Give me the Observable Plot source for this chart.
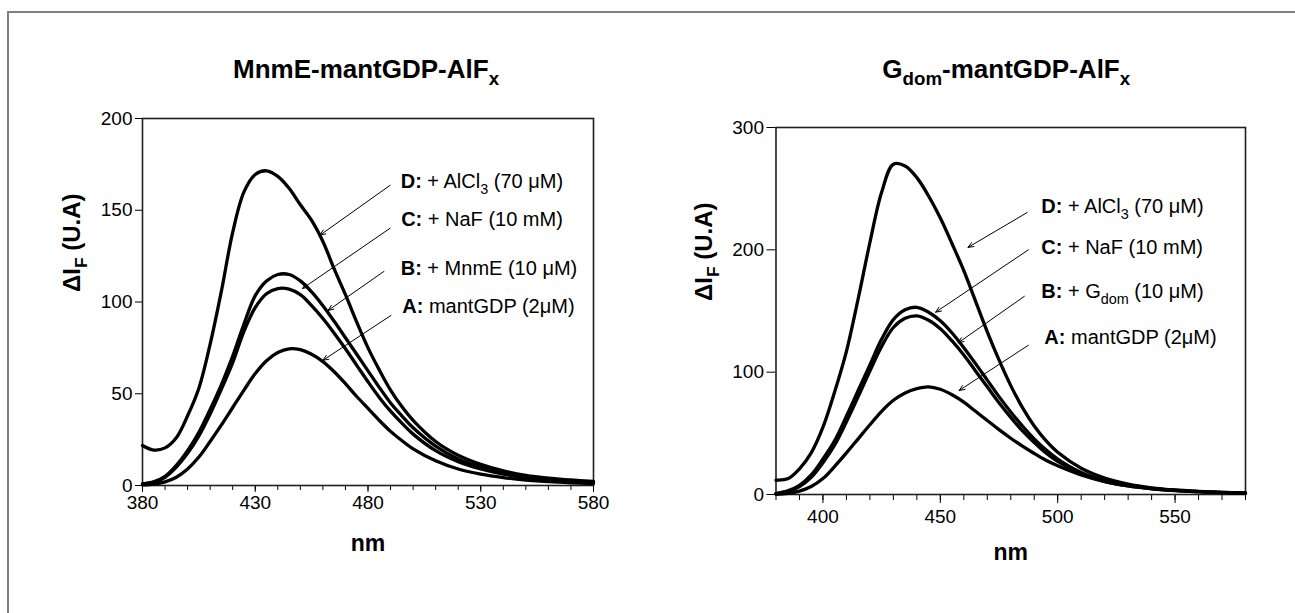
<!DOCTYPE html>
<html><head><meta charset="utf-8">
<script src="https://cdn.jsdelivr.net/npm/d3@7"></script>
<script src="https://cdn.jsdelivr.net/npm/@observablehq/plot@0.6"></script>
<style>
html,body{margin:0;padding:0;background:#fff;}
#wrap{position:relative;width:1295px;height:613px;overflow:hidden;background:#fff;font-family:"Liberation Sans",Arial,Helvetica,sans-serif;}
#border{position:absolute;left:7px;top:11px;width:1400px;height:700px;border-left:2px solid #808080;border-top:2px solid #808080;}
.panel{position:absolute;top:0;}
#wrap svg g[aria-label$="tick label"]{font-size:19px;}
</style></head><body>
<div id="wrap"><div id="border"></div><div id="left" class="panel" style="left:0px"></div><div id="right" class="panel" style="left:650px"></div></div>
<script>
// wavelengths (nm)
const wavelengths = [380,385,390,395,400,405,410,415,420,425,430,435,440,445,450,455,460,465,470,475,480,485,490,495,500,510,520,530,540,550,560,570,580];

// Left panel: MnmE-mantGDP-AlFx
const mnmeA = [0.3,0.8,2,4.5,9,15.5,24,33,42.5,52,61,68,72.5,74.5,74,71.5,67.5,62,55.5,48.5,42,35.5,29.5,24.5,20,13.5,9,6.2,4.3,3,2.1,1.5,1.1];
const mnmeB = [0.8,1.8,4.5,10,17.5,27,39,52.5,67,84,97,104.5,107.3,107,104,98,91,83,74.5,65.5,56.5,48,40.5,34,28,19,13,9,6.2,4.3,3,2.1,1.5];
const mnmeC = [0.9,2,5,11,19,29,41.5,55,70.5,88,103.5,111.5,115,115,111.5,105.5,98,89.5,80.5,71.5,62.5,53.5,45,38,31.5,21.5,14.5,10,7,4.8,3.3,2.3,1.6];
const mnmeD = [21.8,19.3,20.5,26,38,53,77,106,138,160,169.5,171.5,168.5,162,153,144.5,133,118,104,89,75,63,52,43,35.5,24,16.5,11.5,8,5.5,4,3,2.2];

// Right panel: Gdom-mantGDP-AlFx
const gdomA = [0.2,1,2.8,6.5,13,23,34,45.5,57,68,77,83,86.5,88,86,81.5,75.5,68,60.5,53,46,39.5,33.5,28,23.5,16,10.5,7,4.8,3.3,2.3,1.6,1.1];
const gdomB = [0.7,2.5,6.5,14,26,40.5,59.5,80,101,121,136.5,144,146,142.5,135.5,125.5,114,101,88,75,63,52,42.5,34,27,17,10.8,7,4.7,3.2,2.3,1.6,1.1];
const gdomC = [0.8,3,7.5,16,29,44,64,85,106,127,143,151,153,149,142,132,120,107,93.5,80,67.5,56,45.5,36.5,29,18,11.5,7.5,5,3.4,2.4,1.7,1.2];
const gdomD = [11.8,12.8,21,34,55,84,117,160,206,247,270,268.5,259,244,226,205,183,158,133,110,89,71,56,44,34.5,21.5,13.5,8.5,5.5,3.7,2.6,1.8,1.3];

// tick values
const xMajor = [380,430,480,530,580];
const xMinor = d3.range(380,581,10);
const xMajorR = [400,450,500,550];
const xMinorR = d3.range(380,581,10);
const yTicksL = [0,50,100,150,200];
const yTicksR = [0,100,200,300];

// titles and labels
const titleL = "MnmE-mantGDP-AlF_{x}";
const titleR = "G_{dom}-mantGDP-AlF_{x}";
const yLabel = "ΔI_{F} (U.A)";
const xLabel = "nm";

// annotations: label, text anchor (nm, value), arrow start -> end (nm, value)
const notesL = [
  {label:"**D:** + AlCl_{3} (70 μM)", tx:494.5, ty:162, x1:489.8, y1:163.6, x2:458.7, y2:136.4},
  {label:"**C:** + NaF (10 mM)",     tx:494.7, ty:141.3, x1:489.8, y1:140.2, x2:451, y2:107.4},
  {label:"**B:** + MnmE (10 μM)",    tx:494.5, ty:114.5, x1:487.1, y1:116.7, x2:462.3, y2:95.4},
  {label:"**A:** mantGDP (2μM)",      tx:495.2, ty:93.8, x1:490.2, y1:92.7, x2:460, y2:68.2}
];
const notesR = [
  {label:"**D:** + AlCl_{3} (70 μM)", tx:493, ty:230, x1:487, y1:230.5, x2:461.8, y2:202},
  {label:"**C:** + NaF (10 mM)",     tx:493, ty:197, x1:487.5, y1:200, x2:448, y2:149},
  {label:"**B:** + G_{dom} (10 μM)",  tx:493, ty:161, x1:485.8, y1:162, x2:457.6, y2:124},
  {label:"**A:** mantGDP (2μM)",      tx:494.3, ty:123.4, x1:487.5, y1:122, x2:458, y2:85}
];

function rows(series) {
  const out = [];
  for (const [name, vals] of series) vals.forEach((v, i) => out.push({s: name, nm: wavelengths[i], v}));
  return out;
}

function richify(svg) {
  svg.querySelectorAll("text").forEach(t => {
    const s = t.textContent;
    if (!/\*\*|_\{/.test(s)) return;
    const fs = parseFloat(getComputedStyle(t).fontSize) || 16;
    while (t.firstChild) t.removeChild(t.firstChild);
    const re = /\*\*(.+?)\*\*|_\{(.+?)\}|([^*_]+)/g;
    let m, pendingUp = 0;
    while ((m = re.exec(s))) {
      const ts = document.createElementNS("http://www.w3.org/2000/svg", "tspan");
      if (m[1] != null) { ts.textContent = m[1]; ts.setAttribute("font-weight", "bold"); }
      else if (m[2] != null) { ts.textContent = m[2]; ts.setAttribute("font-size", (fs*0.72) + "px"); ts.setAttribute("dy", fs*0.3); pendingUp = -fs*0.3; t.appendChild(ts); continue; }
      else { ts.textContent = m[3]; }
      if (pendingUp) { ts.setAttribute("dy", pendingUp); pendingUp = 0; }
      ts.setAttribute("style", "white-space:pre");
      t.appendChild(ts);
    }
  });
}

function panel(el, cfg) {
  const data = rows(cfg.series);
  const svg = Plot.plot({
    width: cfg.width, height: 613,
    marginLeft: cfg.ml, marginRight: cfg.mr, marginTop: cfg.mt, marginBottom: cfg.mb,
    style: {fontFamily: '"Liberation Sans", Arial, Helvetica, sans-serif', fontSize: "19px", color: "black", background: "transparent", overflow: "visible"},
    x: {domain: [380, 580]},
    y: {domain: [0, cfg.yMax]},
    marks: [
      Plot.axisX(cfg.xMinor, {tickSize: cfg.minorTick, tickFormat: () => "", label: null}),
      Plot.axisX(cfg.xMajor, {tickSize: cfg.majorTick, tickPadding: cfg.xPad, fontSize: 19, label: null}),
      Plot.axisY(cfg.yTicks, {tickSize: cfg.majorTick, tickPadding: 3, fontSize: 19, label: null}),
      Plot.frame({stroke: "#1e1e1e", strokeWidth: 1.6}),
      Plot.line(data, {x: "nm", y: "v", z: "s", stroke: "black", strokeWidth: 3.3, curve: "catmull-rom"}),
      Plot.arrow(cfg.notes, {x1: "x1", y1: "y1", x2: "x2", y2: "y2", stroke: "black", strokeWidth: 1, headLength: 9, headAngle: 45}),
      Plot.text(cfg.notes, {x: "tx", y: "ty", text: "label", textAnchor: "start", lineAnchor: "bottom", fontSize: 20, fill: "black"}),
      Plot.text([cfg.title], {text: d => d, frameAnchor: "top", lineAnchor: "bottom", dx: cfg.titleDx, dy: cfg.titleDy, fontSize: 26, fontWeight: "bold", fill: "black"}),
      Plot.text([yLabel], {text: d => d, frameAnchor: "left", rotate: -90, dx: cfg.ylDx, dy: -10, fontSize: 24, fontWeight: "bold", fill: "black"}),
      Plot.text([xLabel], {text: d => d, frameAnchor: "bottom", lineAnchor: "bottom", dy: 65, fontSize: 23, fontWeight: "bold", fill: "black"})
    ]
  });
  el.appendChild(svg);
  richify(svg);
}

panel(document.getElementById("left"), {
  width: 650, ml: 142, mr: 57, mt: 118, mb: 128, yMax: 200,
  xMajor, xMinor, yTicks: yTicksL, majorTick: 7, minorTick: 5, xPad: 3,
  series: [["A", mnmeA], ["B", mnmeB], ["C", mnmeC], ["D", mnmeD]],
  notes: notesL, title: titleL, titleDx: -2, titleDy: -41, ylDx: -70
});
panel(document.getElementById("right"), {
  width: 645, ml: 125.5, mr: 50, mt: 127, mb: 119, yMax: 300,
  xMajor: xMajorR, xMinor: xMinorR, yTicks: yTicksR, majorTick: 9, minorTick: 6, xPad: 6,
  series: [["A", gdomA], ["B", gdomB], ["C", gdomC], ["D", gdomD]],
  notes: notesR, title: titleR, titleDx: -4.5, titleDy: -50, ylDx: -71.5
});
</script>
</body></html>
